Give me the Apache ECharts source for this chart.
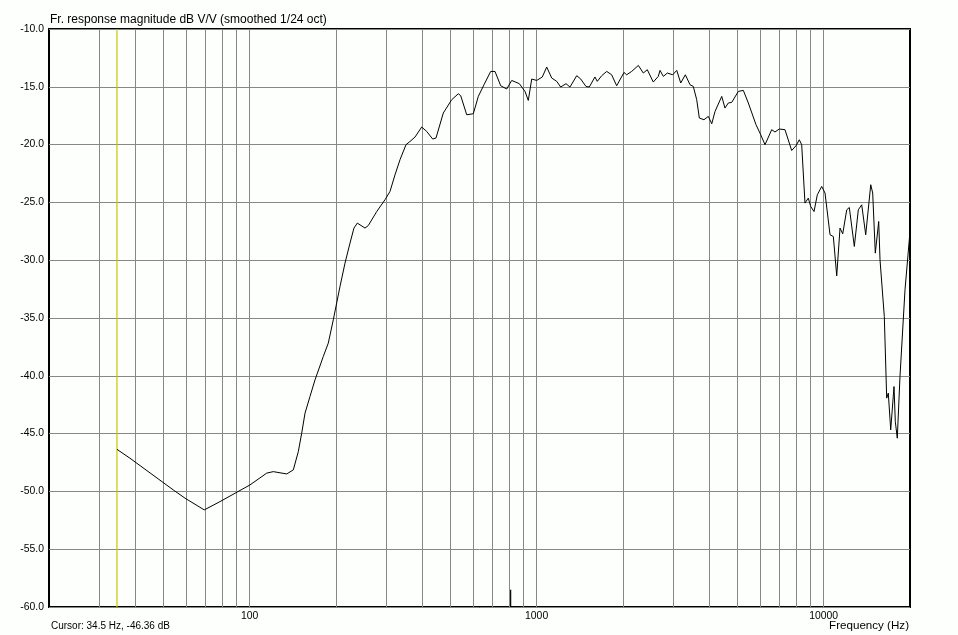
<!DOCTYPE html>
<html><head><meta charset="utf-8">
<script src="https://cdn.jsdelivr.net/npm/echarts@6/dist/echarts.min.js"></script>
<style>html,body{margin:0;padding:0;background:#fdfffd}#c{width:958px;height:635px}</style>
</head><body><div id="c"></div>
<script>
const freqs = [34.5,38.3,54.2,59.6,69.5,78.9,100.3,114.7,120.9,134.7,142,147.8,151.9,156,162.3,169,180.6,188,195.7,206.5,215,223.8,231,237.3,252.4,259.2,277.3,296.3,308.5,321.1,334.2,350.7,362.1,377,397.8,414,434.5,446.1,473,506,533.6,544,570.8,601.8,626.5,655.8,691.8,716.2,749.8,786.8,819,870.6,911.2,935.5,961.6,1000.8,1046.8,1084.4,1128.8,1175,1213,1266,1307,1380,1425,1486,1526,1597,1627,1686,1755,1826,1901,2016,2060,2144,2262,2354,2430,2550,2654,2692,2764,2854,2980,3078,3178,3298,3424,3516,3613,3690,3830,3965,4076,4185,4416,4533,4656,4784,5044,5252,5466,5814,6038,6250,6594,6770,7008,7336,7740,8012,8228,8388,8612,8844,9016,9260,9508,9850,10114,10530,10812,11110,11408,11658,12038,12292,12794,13212,13576,14020,14596,14826,15140,15558,15724,16274,16590,16804,17132,17592,17776,18060,18458,19214,20000];
const dbs = [-46.36,-47.13,-49.87,-50.59,-51.60,-50.88,-49.44,-48.42,-48.29,-48.49,-48.14,-46.56,-44.96,-43.23,-41.80,-40.35,-38.33,-37.17,-35.16,-32.28,-30.25,-28.52,-27.22,-26.79,-27.22,-27.0,-25.79,-24.77,-24.05,-22.61,-21.31,-20.01,-19.73,-19.35,-18.48,-18.86,-19.52,-19.43,-17.27,-16.12,-15.60,-15.77,-17.42,-17.33,-15.83,-14.82,-13.67,-13.67,-14.91,-15.19,-14.45,-14.73,-15.40,-16.18,-14.33,-14.45,-14.15,-13.29,-14.24,-14.53,-15.02,-14.73,-15.02,-14.04,-14.33,-14.97,-15.02,-14.15,-14.53,-14.04,-13.67,-13.96,-14.91,-13.76,-13.96,-13.67,-13.15,-13.81,-13.52,-14.59,-14.10,-13.58,-14.10,-13.81,-13.96,-13.58,-14.67,-13.96,-14.82,-14.97,-16.12,-17.70,-17.85,-17.56,-18.20,-17.13,-15.83,-16.84,-16.40,-16.35,-15.40,-15.31,-16.40,-18.28,-19.15,-20.01,-18.71,-18.91,-18.65,-18.71,-20.51,-20.10,-19.58,-20.01,-25.06,-24.63,-25.35,-25.79,-24.34,-23.62,-24.19,-27.80,-27.95,-31.35,-27.22,-27.72,-25.64,-25.44,-28.81,-25.64,-25.21,-27.80,-23.47,-24.19,-29.39,-26.65,-29.97,-34.87,-41.93,-41.50,-44.68,-40.93,-43.96,-45.40,-40.06,-32.56,-27.52];
const gridFreqs = [30,40,50,60,70,80,90,100,200,300,400,500,600,700,800,900,1000,2000,3000,4000,5000,6000,7000,8000,9000,10000];
const xTickLabels = [100,1000,10000];
const yRange = [-60, -10];
const cursorFreq = 34.5;
const cursorDb = -46.36;
const markerFreq = 812;
const markerDb = [-58.5, -60];
const titleText = 'Fr. response magnitude dB V/V (smoothed 1/24 oct)';
const xName = 'Frequency (Hz)';

const font = 'Arial, "Liberation Sans", sans-serif';
const chart = echarts.init(document.getElementById('c'), null, {renderer:'canvas'});
chart.setOption({
  animation: false,
  backgroundColor: '#fdfffd',
  title: [
    {text: titleText, left: 50, top: 14, padding: 0, textStyle:{fontFamily:font, fontSize:12, fontWeight:'normal', color:'#000'}},
    {text: 'Cursor: ' + cursorFreq + ' Hz, ' + cursorDb.toFixed(2) + ' dB', left: 51, top: 621, padding: 0, textStyle:{fontFamily:font, fontSize:10, fontWeight:'normal', color:'#000'}},
    {text: xName, right: 49, top: 620, padding: 0, textStyle:{fontFamily:font, fontSize:11.6, fontWeight:'normal', color:'#000'}}
  ],
  grid: {left:49, top:29, right:48, bottom:28, show:true, borderColor:'#000', borderWidth:2, backgroundColor:'transparent'},
  xAxis: {
    type:'log', logBase:10, min:20, max:20000,
    axisLine:{show:false}, axisTick:{show:false}, splitLine:{show:false},
    axisLabel:{fontFamily:font, fontSize:10.4, color:'#000', margin:4,
      formatter: v => { const r = Math.round(v); return xTickLabels.includes(r) ? String(r) : ''; }}
  },
  yAxis: {
    type:'value', min:yRange[0], max:yRange[1], interval:5,
    axisLine:{show:false}, axisTick:{show:false},
    splitLine:{show:true, lineStyle:{color:'#878787', width:1}},
    axisLabel:{fontFamily:font, fontSize:10.4, color:'#000', margin:5, formatter: v => v.toFixed(1)}
  },
  series: [
    {type:'line', data:[], z:1, silent:true,
      markLine:{silent:true, symbol:['none','none'], label:{show:false}, animation:false,
        lineStyle:{color:'#878787', width:1, type:'solid'},
        data: gridFreqs.map(f => ({xAxis:f}))}},
    {type:'line', z:2, silent:true, symbol:'none', showSymbol:false,
      lineStyle:{color:'#c8c800', width:1.2},
      data: [[cursorFreq, yRange[0]], [cursorFreq, yRange[1]]]},
    {type:'line', z:5, showSymbol:false, symbol:'none', silent:true,
      lineStyle:{color:'#000', width:1},
      data: freqs.map((f,i) => [f, dbs[i]])},
    {type:'line', z:5, showSymbol:false, symbol:'none', silent:true,
      lineStyle:{color:'#000', width:1.2},
      data: [[markerFreq, markerDb[0]], [markerFreq, markerDb[1]]]}
  ]
});
</script></body></html>
